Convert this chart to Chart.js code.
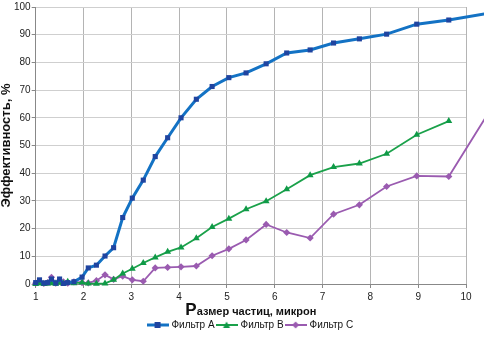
<!DOCTYPE html>
<html><head><meta charset="utf-8">
<script src="https://cdn.jsdelivr.net/npm/chart.js@4.4.0/dist/chart.umd.min.js"></script>
<style>html,body{margin:0;padding:0;background:#fff;}canvas{display:block;}</style>
</head><body>
<canvas id="c" width="484" height="337"></canvas>
<script>
const xTitle = "Размер частиц, микрон";
const yTitle = "Эффективность, %";
const seriesNames = ["Фильтр A", "Фильтр B", "Фильтр C"];
const yTicks = [0,10,20,30,40,50,60,70,80,90,100];
const xTicks = [1,2,3,4,5,6,7,8,9,10];

const xA = [1.0,1.08,1.17,1.25,1.33,1.42,1.5,1.58,1.67,1.8,1.97,2.1,2.27,2.45,2.63,2.82,3.02,3.25,3.5,3.76,4.04,4.36,4.69,5.04,5.4,5.82,6.25,6.74,7.23,7.77,8.34,8.97,9.64,10.5];
const yA = [0.5,1.5,0.3,0.5,1.8,0.3,1.8,0.2,0.5,0.8,2.5,5.8,6.8,10.1,13.1,24,31,37.5,46,52.8,60,66.7,71.3,74.5,76.2,79.5,83.4,84.5,87,88.5,90.2,93.8,95.3,97.8];

const xB = [1.0,1.08,1.17,1.25,1.33,1.42,1.5,1.58,1.67,1.8,1.97,2.1,2.27,2.45,2.63,2.82,3.02,3.25,3.5,3.76,4.04,4.36,4.69,5.04,5.4,5.82,6.25,6.74,7.23,7.77,8.34,8.97,9.64];
const yB = [0,0.3,0,0.2,0.3,0.1,0.5,0.2,0.8,0.3,0.5,0.2,0.1,0.2,1.5,3.8,5.5,7.6,9.6,11.6,13.2,16.5,20.6,23.6,27,29.9,34.2,39.3,42.2,43.5,47,53.9,58.8];

const xC = [1.0,1.08,1.17,1.25,1.33,1.42,1.5,1.58,1.67,1.8,1.97,2.1,2.27,2.45,2.63,2.82,3.02,3.25,3.5,3.76,4.04,4.36,4.69,5.04,5.4,5.82,6.25,6.74,7.23,7.77,8.34,8.97,9.64,10.5];
const yC = [0.3,0.8,0.2,0.5,2.4,0.3,1.3,0.8,0.3,0.8,0.5,0.4,1.2,3.3,1.7,2.8,1.5,1.0,5.8,6.0,6.2,6.5,10.2,12.7,15.9,21.5,18.6,16.6,25.2,28.6,35.2,39,38.8,62.6];

const colors = {
  A: {line:"#1372c4", point:"#1f44a0"},
  B: {line:"#1aa14a", point:"#0f9a47"},
  C: {line:"#9a5bb0", point:"#9a5bb0"}
};
const font = "'Liberation Sans', Arial, sans-serif";

function pts(xs, ys){ return xs.map((x,i)=>({x:x, y:ys[i]})); }

function legendIcon(lineColor, ptColor, style, lw){
  const cv = document.createElement('canvas');
  cv.width = 22; cv.height = 10;
  const ctx = cv.getContext('2d');
  ctx.strokeStyle = lineColor; ctx.lineWidth = lw;
  ctx.beginPath(); ctx.moveTo(0,5); ctx.lineTo(22,5); ctx.stroke();
  ctx.fillStyle = ptColor;
  if (style === 'rect') { ctx.fillRect(8,2,6,6); }
  else if (style === 'triangle') { ctx.beginPath(); ctx.moveTo(11,1.5); ctx.lineTo(14.5,8); ctx.lineTo(7.5,8); ctx.closePath(); ctx.fill(); }
  else { ctx.beginPath(); ctx.moveTo(11,1.5); ctx.lineTo(14.5,5); ctx.lineTo(11,8.5); ctx.lineTo(7.5,5); ctx.closePath(); ctx.fill(); }
  return cv;
}
const icons = [
  legendIcon(colors.A.line, colors.A.point, 'rect', 3),
  legendIcon(colors.B.line, colors.B.point, 'triangle', 2),
  legendIcon(colors.C.line, colors.C.point, 'diamond', 2)
];

// Linear scale whose title draws the first letter larger (as in the original)
class TitledLinear extends Chart.LinearScale {
  drawTitle() {
    const opts = this.options.title;
    if (!opts.display) return;
    const ctx = this.ctx;
    const text = opts.text;
    const first = text.charAt(0), rest = text.slice(1);
    const f1 = "bold 17px " + font, f2 = "bold 11px " + font;
    ctx.save();
    ctx.font = f1; const w1 = ctx.measureText(first).width;
    ctx.font = f2; const w2 = ctx.measureText(rest).width;
    const cx = (this.left + this.right) / 2;
    const x0 = cx - (w1 + w2) / 2;
    const y = this.bottom - 2;
    ctx.fillStyle = opts.color; ctx.textBaseline = 'alphabetic'; ctx.textAlign = 'left';
    ctx.font = f1; ctx.fillText(first, x0, y);
    ctx.font = f2; ctx.fillText(rest, x0 + w1, y);
    ctx.restore();
  }
}
TitledLinear.id = 'titledLinear';
TitledLinear.defaults = {};
Chart.register(TitledLinear);

new Chart(document.getElementById('c'), {
  type: 'line',
  data: {
    datasets: [
      {label: seriesNames[0], data: pts(xA,yA), borderColor: colors.A.line, backgroundColor: colors.A.point,
       borderWidth: 3, pointStyle: 'rect', pointRadius: 3.6, pointBorderWidth: 0, pointBackgroundColor: colors.A.point, clip: false, tension: 0},
      {label: seriesNames[1], data: pts(xB,yB), borderColor: colors.B.line, backgroundColor: colors.B.point,
       borderWidth: 1.8, pointStyle: 'triangle', pointRadius: 4, pointBorderWidth: 0, pointBackgroundColor: colors.B.point, clip: false, tension: 0},
      {label: seriesNames[2], data: pts(xC,yC), borderColor: colors.C.line, backgroundColor: colors.C.point,
       borderWidth: 1.8, pointStyle: 'rectRot', pointRadius: 3.6, pointBorderWidth: 0, pointBackgroundColor: colors.C.point, clip: false, tension: 0}
    ]
  },
  options: {
    responsive: false,
    animation: false,
    layout: {padding: {top: 7, right: 18, left: 0, bottom: -3}},
    plugins: {
      tooltip: {enabled: false},
      legend: {
        position: 'bottom',
        fullSize: false,
        labels: {
          font: {family: font, size: 10},
          color: '#111',
          usePointStyle: true,
          pointStyleWidth: 18,
          padding: 3,
          generateLabels: (chart) => chart.data.datasets.map((ds, i) => ({
            text: ds.label, pointStyle: icons[i], fillStyle: ds.borderColor, strokeStyle: ds.borderColor,
            lineWidth: 0, hidden: false, datasetIndex: i, fontColor: '#111'
          }))
        }
      }
    },
    scales: {
      x: {
        type: 'titledLinear', min: 1, max: 10,
        afterBuildTicks: (s) => { s.ticks = xTicks.map(v => ({value: v})); },
        ticks: {font: {family: font, size: 10, lineHeight: 1}, color: '#222', padding: 4, maxRotation: 0},
        grid: {color: '#b4b4b4', lineWidth: 1, tickLength: 4, tickColor: '#888'},
        border: {color: '#888'},
        title: {display: true, text: xTitle, font: {family: font, size: 11, weight: 'bold', lineHeight: 1}, color: '#111', padding: {top: 0, bottom: 0}}
      },
      y: {
        min: 0, max: 100,
        afterBuildTicks: (s) => { s.ticks = yTicks.map(v => ({value: v})); },
        ticks: {font: {family: font, size: 10}, color: '#222', padding: 1},
        grid: {color: '#cfcfcf', lineWidth: 1, tickLength: 4, tickColor: '#888'},
        border: {color: '#888'},
        title: {display: true, text: yTitle, font: {family: font, size: 13, weight: 'bold', lineHeight: 1}, color: '#111', padding: {top: 0, bottom: 0}}
      }
    }
  }
});
</script>
</body></html>
